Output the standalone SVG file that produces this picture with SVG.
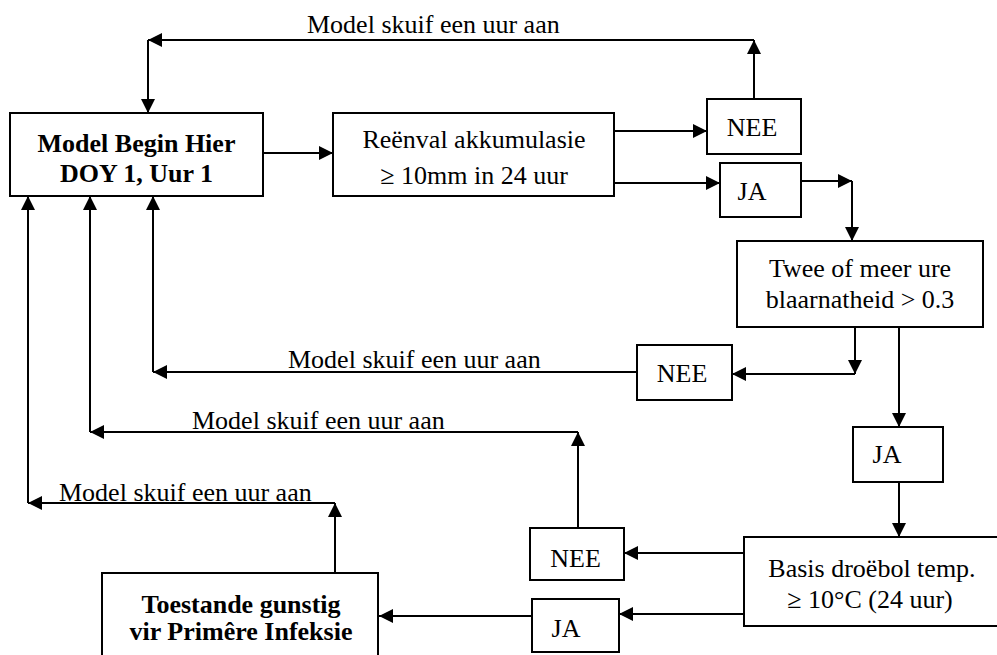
<svg xmlns="http://www.w3.org/2000/svg" width="997" height="655" viewBox="0 0 997 655">
<defs>
<marker id="ah" viewBox="0 0 14 14" refX="14" refY="7" markerWidth="14" markerHeight="14" markerUnits="userSpaceOnUse" orient="auto">
<path d="M0,0 L14,7 L0,14 z" fill="#000"/>
</marker>
</defs>
<style>
.box{fill:#fff;stroke:#000;stroke-width:2}
text{font-family:'Liberation Serif','Times New Roman',serif;font-size:26px;fill:#000}
.t{text-anchor:middle}
.b{font-weight:bold}
.c{fill:none;stroke:#000;stroke-width:2;marker-end:url(#ah)}
</style>
<rect width="997" height="655" fill="#fff"/>
<g id="connectors">
<path class="c" d="M754,99 L754,40"/>
<path class="c" d="M754,40 L148,40"/>
<path class="c" d="M148,40 L148,113"/>
<path class="c" d="M263,153 L333,153"/>
<path class="c" d="M614,131 L707,131"/>
<path class="c" d="M614,183 L720,183"/>
<path class="c" d="M801,181 L852,181"/>
<path class="c" d="M852,181 L852,241"/>
<path class="c" d="M855,327 L855,374"/>
<path class="c" d="M855,374 L732,374"/>
<path class="c" d="M637,372 L153,372"/>
<path class="c" d="M153,372 L153,196"/>
<path class="c" d="M899,327 L899,427"/>
<path class="c" d="M899,482 L899,537"/>
<path class="c" d="M578,528 L578,432"/>
<path class="c" d="M578,432 L90,432"/>
<path class="c" d="M90,432 L90,196"/>
<path class="c" d="M744,553 L624,553"/>
<path class="c" d="M744,614 L619,614"/>
<path class="c" d="M532,616 L379,616"/>
<path class="c" d="M335,573 L335,503"/>
<path class="c" d="M335,503 L28,503"/>
<path class="c" d="M28,503 L28,196"/>
<text x="307" y="33">Model skuif een uur aan</text>
<text x="288" y="368">Model skuif een uur aan</text>
<text x="192" y="429">Model skuif een uur aan</text>
<text x="59" y="501">Model skuif een uur aan</text>
</g>
<g id="start">
<rect class="box" x="10" y="113" width="253" height="83"/>
<text class="t b" x="136.5" y="152">Model Begin Hier</text>
<text class="t b" x="136.5" y="182">DOY 1, Uur 1</text>
</g>
<g id="reenval">
<rect class="box" x="333" y="113" width="281" height="83"/>
<text class="t" x="474" y="148">Reënval akkumulasie</text>
<text class="t" x="474" y="184">≥ 10mm in 24 uur</text>
</g>
<g id="nee1">
<rect class="box" x="707" y="99" width="94" height="55"/>
<text class="t" x="752" y="136">NEE</text>
</g>
<g id="ja1">
<rect class="box" x="720" y="163" width="81" height="54"/>
<text class="t" x="752" y="200">JA</text>
</g>
<g id="twee">
<rect class="box" x="737" y="241" width="246" height="86"/>
<text class="t" x="860" y="277">Twee of meer ure</text>
<text class="t" x="860" y="308">blaarnatheid &gt; 0.3</text>
</g>
<g id="nee2">
<rect class="box" x="637" y="345" width="95" height="55"/>
<text class="t" x="682" y="382">NEE</text>
</g>
<g id="ja2">
<rect class="box" x="853" y="427" width="90" height="55"/>
<text class="t" x="887" y="463">JA</text>
</g>
<g id="basis">
<rect class="box" x="744" y="537" width="260" height="89"/>
<text class="t" x="872" y="577">Basis droëbol temp.</text>
<text class="t" x="870" y="608">≥ 10°C (24 uur)</text>
</g>
<g id="nee3">
<rect class="box" x="530" y="528" width="94" height="52"/>
<text class="t" x="575.5" y="567">NEE</text>
</g>
<g id="ja3">
<rect class="box" x="532" y="599" width="87" height="53"/>
<text class="t" x="566" y="637">JA</text>
</g>
<g id="toestande">
<rect class="box" x="102" y="573" width="276" height="100"/>
<text class="t b" x="241" y="613">Toestande gunstig</text>
<text class="t b" x="241" y="640">vir Primêre Infeksie</text>
</g>
</svg>
